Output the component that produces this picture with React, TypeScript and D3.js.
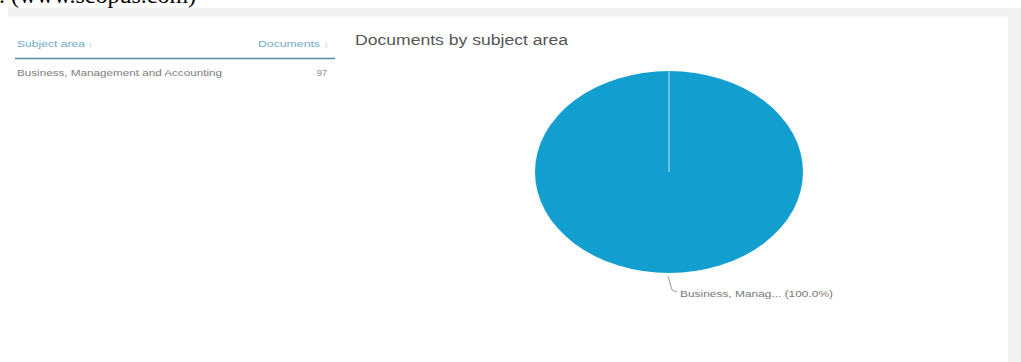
import React from "react";
import * as d3 from "d3";

const categories = ["Business, Management and Accounting"];
const documents = [97];
const shortLabels = ["Business, Manag..."];
const headerLabels = ["Subject area", "Documents"];
const chartTitle = "Documents by subject area";
const captionText = ". (www.scopus.com)";

const W = 1021;
const H = 362;

export default function App() {
  const total = d3.sum(documents);
  const pie = d3.pie<number>().sort(null).value((d) => d);
  const slices = pie(documents);
  const ry = 101;
  const rx = 134;
  const cx = 669;
  const cy = 172;
  const arc = d3.arc<d3.PieArcDatum<number>>().innerRadius(0).outerRadius(ry);
  const sx = rx / ry;

  const pct = d3.format(".1f");

  return (
    <svg
      width={W}
      height={H}
      style={{ position: "absolute", left: 0, top: 0, background: "#ffffff" }}
      fontFamily="Arial, 'Liberation Sans', sans-serif"
    >
      {/* caption cut at top */}
      <text
        x={-1}
        y={3}
        fontFamily="'Liberation Serif', 'Times New Roman', serif"
        fontSize={24}
        fill="#000"
      >
        {captionText}
      </text>
      {/* gray page frame */}
      <rect x={8} y={8} width={W - 8} height={9} fill="#f1f1f1" />
      <rect x={1008} y={8} width={13} height={H - 8} fill="#f3f3f3" />
      <rect x={8} y={16} width={1000} height={2} fill="#f7f7f7" />

      {/* table */}
      <text x={17} y={47} fontSize={9} fill="#6fa9c9" textLength={68} lengthAdjust="spacingAndGlyphs">
        {headerLabels[0]}
      </text>
      <text x={88} y={47} fontSize={8} fill="#6fa9c9">↓</text>
      <text x={258} y={47} fontSize={9} fill="#6fa9c9" textLength={62} lengthAdjust="spacingAndGlyphs">
        {headerLabels[1]}
      </text>
      <text x={324} y={47} fontSize={8} fill="#e08a86">↓</text>
      <line x1={15} x2={335} y1={58.5} y2={58.5} stroke="#5b8aa0" strokeWidth={1.5} />
      {categories.map((c, i) => (
        <g key={c}>
          <text x={17} y={76 + i * 20} fontSize={9} fill="#7d7d7d" textLength={205} lengthAdjust="spacingAndGlyphs">
            {c}
          </text>
          <text x={327} y={76 + i * 20} fontSize={9} fill="#8a8a8a" textAnchor="end">
            {documents[i]}
          </text>
        </g>
      ))}

      {/* title */}
      <text x={355} y={45} fontSize={14} fill="#555" textLength={213} lengthAdjust="spacingAndGlyphs">
        {chartTitle}
      </text>

      {/* pie */}
      <g transform={`translate(${cx},${cy}) scale(${sx},1)`}>
        {slices.map((s, i) => (
          <path key={i} d={arc(s) || ""} fill="#129fcf" />
        ))}
        {slices.map((s, i) => {
          const a = s.startAngle;
          return (
            <line
              key={"b" + i}
              x1={0}
              y1={0}
              x2={Math.sin(a) * ry}
              y2={-Math.cos(a) * ry}
              stroke="#bfe6f3"
              strokeWidth={1}
              vectorEffect="non-scaling-stroke"
            />
          );
        })}
      </g>

      {/* label with leader */}
      {slices.map((s, i) => {
        const mid = (s.startAngle + s.endAngle) / 2;
        const px = cx + Math.sin(mid) * rx;
        const py = cy - Math.cos(mid) * ry;
        return (
          <g key={"l" + i}>
            <polyline
              points={`${px - 1},${py + 3} ${px + 3},${py + 17} ${px + 8},${py + 19}`}
              fill="none"
              stroke="#9a9a9a"
              strokeWidth={1}
            />
            <text x={680} y={297} fontSize={9} fill="#7a7a7a" textLength={153} lengthAdjust="spacingAndGlyphs">
              {`${shortLabels[i]} (${pct((documents[i] / total) * 100)}%)`}
            </text>
          </g>
        );
      })}
    </svg>
  );
}
